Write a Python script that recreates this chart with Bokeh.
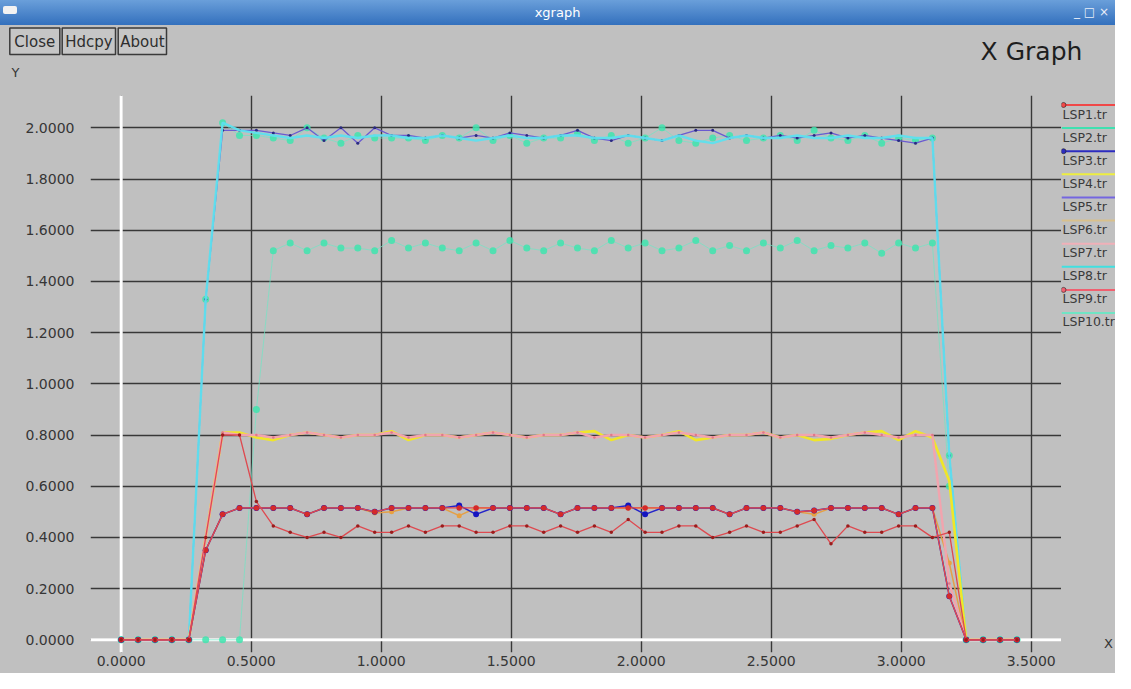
from bokeh.plotting import figure
from bokeh.models import (Range1d, FixedTicker, PrintfTickFormatter, Span, Div,
                          ColumnDataSource)
from bokeh.layouts import column, row
from bokeh.core.properties import value
from bokeh.embed import file_html
from bokeh.resources import INLINE

# ---------------- data ----------------
T = [0.000, 0.065, 0.130, 0.195, 0.260, 0.325, 0.390, 0.455, 0.520, 0.585,
     0.650, 0.715, 0.780, 0.845, 0.910, 0.975, 1.040, 1.105, 1.170, 1.235,
     1.300, 1.365, 1.430, 1.495, 1.560, 1.625, 1.690, 1.755, 1.820, 1.885,
     1.950, 2.015, 2.080, 2.145, 2.210, 2.275, 2.340, 2.405, 2.470, 2.535,
     2.600, 2.665, 2.730, 2.795, 2.860, 2.925, 2.990, 3.055, 3.120, 3.185,
     3.250, 3.315, 3.380, 3.445]

LSP1 = [0, 0, 0, 0, 0, 0.35, 0.49, 0.515, 0.515, 0.515,
        0.515, 0.49, 0.515, 0.515, 0.515, 0.50, 0.515, 0.515, 0.515, 0.515,
        0.515, 0.515, 0.515, 0.515, 0.515, 0.515, 0.49, 0.515, 0.515, 0.515,
        0.515, 0.515, 0.515, 0.515, 0.515, 0.515, 0.49, 0.515, 0.515, 0.515,
        0.50, 0.505, 0.515, 0.515, 0.515, 0.515, 0.49, 0.515, 0.515, 0.17,
        0, 0, 0, 0]

LSP2 = [0, 0, 0, 0, 0, 1.33, 2.02, 1.97, 1.97, 1.96,
        1.95, 2.00, 1.96, 1.94, 1.97, 1.96, 1.96, 1.96, 1.95, 1.97,
        1.96, 2.00, 1.95, 1.97, 1.94, 1.96, 1.96, 1.98, 1.95, 1.97,
        1.94, 1.96, 2.00, 1.95, 1.94, 1.96, 1.97, 1.95, 1.96, 1.97,
        1.95, 1.99, 1.96, 1.95, 1.97, 1.94, 1.96, 1.95, 1.96, 0.72,
        0, 0, 0, 0]

LSP3 = [0, 0, 0, 0, 0, 0.35, 0.49, 0.515, 0.515, 0.515,
        0.515, 0.49, 0.515, 0.515, 0.515, 0.50, 0.515, 0.515, 0.515, 0.515,
        0.525, 0.49, 0.515, 0.515, 0.515, 0.515, 0.49, 0.515, 0.515, 0.515,
        0.525, 0.49, 0.515, 0.515, 0.515, 0.515, 0.49, 0.515, 0.515, 0.515,
        0.50, 0.505, 0.515, 0.515, 0.515, 0.515, 0.49, 0.515, 0.515, 0.17,
        0, 0, 0, 0]

LSP4 = [0, 0, 0, 0, 0, 0.40, 0.81, 0.81, 0.79, 0.78,
        0.80, 0.81, 0.80, 0.79, 0.80, 0.80, 0.815, 0.78, 0.80, 0.80,
        0.79, 0.80, 0.81, 0.80, 0.79, 0.80, 0.80, 0.81, 0.815, 0.78,
        0.80, 0.79, 0.80, 0.815, 0.78, 0.79, 0.80, 0.80, 0.81, 0.79,
        0.80, 0.78, 0.785, 0.80, 0.81, 0.815, 0.78, 0.815, 0.79, 0.62,
        0, 0, 0, 0]

LSP5 = [0, 0, 0, 0, 0, 1.33, 1.99, 1.99, 1.99, 1.98,
        1.97, 2.00, 1.95, 2.00, 1.94, 2.00, 1.97, 1.97, 1.96, 1.97,
        1.96, 1.97, 1.96, 1.98, 1.97, 1.96, 1.97, 1.99, 1.96, 1.95,
        1.97, 1.96, 1.95, 1.97, 1.99, 1.99, 1.96, 1.97, 1.96, 1.97,
        1.96, 1.97, 1.98, 1.96, 1.97, 1.96, 1.95, 1.94, 1.96, 0.72,
        0, 0, 0, 0]

LSP6 = [0, 0, 0, 0, 0, 0.35, 0.49, 0.515, 0.515, 0.515,
        0.515, 0.49, 0.515, 0.515, 0.515, 0.495, 0.50, 0.515, 0.515, 0.515,
        0.485, 0.515, 0.515, 0.515, 0.515, 0.515, 0.49, 0.515, 0.515, 0.515,
        0.515, 0.515, 0.515, 0.515, 0.515, 0.515, 0.49, 0.515, 0.515, 0.515,
        0.50, 0.49, 0.515, 0.515, 0.515, 0.515, 0.49, 0.515, 0.515, 0.30,
        0, 0, 0, 0]

LSP7 = [0, 0, 0, 0, 0, 0.40, 0.81, 0.80, 0.80, 0.79,
        0.80, 0.81, 0.80, 0.79, 0.80, 0.80, 0.81, 0.79, 0.80, 0.80,
        0.79, 0.80, 0.81, 0.80, 0.79, 0.80, 0.80, 0.81, 0.79, 0.80,
        0.80, 0.79, 0.80, 0.81, 0.80, 0.79, 0.80, 0.80, 0.81, 0.79,
        0.80, 0.80, 0.79, 0.80, 0.81, 0.80, 0.79, 0.80, 0.80, 0.22,
        0, 0, 0, 0]

LSP8 = [0, 0, 0, 0, 0, 1.33, 2.02, 1.99, 1.98, 1.97,
        1.96, 1.97, 1.96, 1.97, 1.96, 1.97, 1.97, 1.96, 1.96, 1.97,
        1.96, 1.95, 1.96, 1.97, 1.96, 1.96, 1.97, 1.97, 1.96, 1.96,
        1.97, 1.96, 1.95, 1.97, 1.95, 1.94, 1.96, 1.97, 1.96, 1.96,
        1.97, 1.96, 1.96, 1.97, 1.96, 1.96, 1.97, 1.96, 1.96, 0.72,
        0, 0, 0, 0]

LSP9 = [0, 0, 0, 0, 0, 0.40, 0.80, 0.80, 0.54, 0.445,
        0.42, 0.40, 0.42, 0.40, 0.445, 0.42, 0.42, 0.445, 0.42, 0.445,
        0.445, 0.42, 0.42, 0.445, 0.445, 0.42, 0.445, 0.42, 0.445, 0.42,
        0.47, 0.42, 0.42, 0.445, 0.445, 0.40, 0.42, 0.445, 0.42, 0.42,
        0.445, 0.47, 0.375, 0.445, 0.42, 0.42, 0.445, 0.445, 0.40, 0.42,
        0, 0, 0, 0]

LSP10 = [0, 0, 0, 0, 0, 0, 0, 0, 0.90, 1.52,
         1.55, 1.52, 1.55, 1.53, 1.53, 1.52, 1.56, 1.53, 1.55, 1.53,
         1.52, 1.55, 1.52, 1.56, 1.53, 1.52, 1.55, 1.53, 1.52, 1.56,
         1.53, 1.55, 1.52, 1.53, 1.56, 1.52, 1.54, 1.52, 1.55, 1.53,
         1.56, 1.52, 1.54, 1.53, 1.55, 1.51, 1.55, 1.53, 1.55, 0.60,
         0, 0, 0, 0]

NAMES = ["LSP1.tr", "LSP2.tr", "LSP3.tr", "LSP4.tr", "LSP5.tr",
         "LSP6.tr", "LSP7.tr", "LSP8.tr", "LSP9.tr", "LSP10.tr"]
X_TICKS = [0.0, 0.5, 1.0, 1.5, 2.0, 2.5, 3.0, 3.5]
Y_TICKS = [0.0, 0.2, 0.4, 0.6, 0.8, 1.0, 1.2, 1.4, 1.6, 1.8, 2.0]
BUTTONS = ["Close", "Hdcpy", "About"]

# ---------------- style ----------------
BG = "#c0c0c0"
FONT = "DejaVu Sans"
TXT = "#363636"
LEG_COLORS = ["#f04848", "#40e0b0", "#2c2cc0", "#eeee40", "#7466e0",
              "#d8c08c", "#f0b0b8", "#40e0e0", "#f06070", "#70e4c4"]
LEG_DOT = [True, False, True, False, False, False, False, False, True, False]

W_ALL = 1115
H_BAR, H_HEAD, H_MAIN = 25, 60, 588
FL, FR, FT, FB = 90, 1061, 95, 652          # frame edges (picture px)
X0_PX, PX_X = 120.7, 260.0                  # px of x=0, px per unit
Y0_PX, PX_Y = 639.3, 256.0                  # px of y=0, px per unit
TOP_MAIN = H_BAR + H_HEAD
BG_STYLE = {"background-color": BG}


def dx(px):
    return (px - X0_PX) / PX_X


def dy(py):
    return (Y0_PX - py) / PX_Y


def blank(width, height, x0, x1, y0, y1):
    f = figure(width=width, height=height, title=None,
               x_range=Range1d(x0, x1), y_range=Range1d(y1, y0),
               x_axis_type=None, y_axis_type=None,
               output_backend="svg", toolbar_location=None,
               min_border=0, min_border_left=0, min_border_right=0,
               min_border_top=0, min_border_bottom=0, margin=0,
               styles=BG_STYLE)
    f.background_fill_color = BG
    f.border_fill_color = BG
    f.outline_line_color = None
    return f


# ---------------- main plot ----------------
p = figure(width=FR, height=H_MAIN, title=None,
           x_range=Range1d(dx(FL), dx(FR)), y_range=Range1d(dy(FB), dy(FT)),
           output_backend="svg", toolbar_location=None, margin=0,
           styles=BG_STYLE,
           min_border_left=FL, min_border_right=0,
           min_border_top=FT - TOP_MAIN,
           min_border_bottom=TOP_MAIN + H_MAIN - FB)
p.background_fill_color = BG
p.border_fill_color = BG
p.outline_line_color = None

p.xaxis.ticker = FixedTicker(ticks=X_TICKS)
p.yaxis.ticker = FixedTicker(ticks=Y_TICKS)
for ax in (p.xaxis[0], p.yaxis[0]):
    ax.formatter = PrintfTickFormatter(format="%.4f")
    ax.axis_line_color = None
    ax.major_tick_line_color = None
    ax.minor_tick_line_color = None
    ax.major_tick_out = 0
    ax.major_tick_in = 0
    ax.minor_tick_out = 0
    ax.minor_tick_in = 0
    ax.major_label_text_font = FONT
    ax.major_label_text_font_size = "14px"
    ax.major_label_text_color = TXT
p.xaxis.major_label_standoff = 3
p.yaxis.major_label_standoff = 16

for g in (p.xgrid[0], p.ygrid[0]):
    g.grid_line_color = "#383838"
    g.grid_line_width = 1.4

p.add_layout(Span(location=0, dimension="height", line_color="white",
                  line_width=3, level="underlay"))
p.add_layout(Span(location=0, dimension="width", line_color="white",
                  line_width=3, level="underlay"))


def draw(y, color, width, msize=0, mcolor=None, malpha=1.0, lalpha=1.0):
    src = ColumnDataSource(dict(x=T, y=y))
    p.line("x", "y", source=src, line_color=color, line_width=width,
           line_alpha=lalpha)
    if msize:
        p.scatter("x", "y", source=src, size=msize, fill_color=mcolor,
                  line_color=None, fill_alpha=malpha)


draw(LSP10, "#70e6c4", 1.0, 7, "#3fe4ae", 0.85, 0.7)
draw(LSP2, "#70e6c4", 1.0, 7, "#3fe4ae", 0.85, 0.7)
draw(LSP5, "#6a5ad0", 1.3, 3, "#2a2a80")
draw(LSP8, "#5ee0ee", 2.4, 0, None, 1.0, 0.95)
draw(LSP6, "#e4a048", 1.5, 5, "#e8a040")
draw(LSP4, "#f0e628", 2.6)
draw(LSP7, "#f2a4ae", 2.4, 2.5, "#e07888")
draw(LSP3, "#2424c8", 1.5, 6, "#1414c0")
draw(LSP1, "#e84848", 1.3, 5.5, "#d42a2a")
draw(LSP9, "#de4a50", 1.3, 3.5, "#9a1c1c")

# ---------------- header strip: buttons, title, Y unit ----------------
head = blank(W_ALL, H_HEAD, 0, W_ALL, H_BAR, H_BAR + H_HEAD)
b_left = [9.3, 61.7, 117.7]
b_right = [59.3, 115.0, 166.0]
head.quad(left=b_left, right=b_right, top=[27.5] * 3, bottom=[54.0] * 3,
          fill_color="#c6c6c6", line_color="#3a3a3a", line_width=1.5)
head.text(x=[(a + b) / 2 for a, b in zip(b_left, b_right)], y=[41.5] * 3,
          text=BUTTONS, text_align="center", text_baseline="middle",
          text_font=value(FONT), text_font_size="15px", text_color="#2e2e2e")
head.text(x=[1031], y=[51], text=["X Graph"], text_align="center",
          text_baseline="middle", text_font=value(FONT),
          text_font_size="25px", text_color="#1e1e1e")
head.text(x=[15], y=[72], text=["Y"], text_align="center",
          text_baseline="middle", text_font=value(FONT),
          text_font_size="13px", text_color=TXT)

# ---------------- legend strip (xgraph style) ----------------
leg = blank(W_ALL - FR, H_MAIN, FR, W_ALL, TOP_MAIN, TOP_MAIN + H_MAIN)
leg_line_y = [95 + 24.4 * k for k in range(len(NAMES))]
leg_text_y = [105 + 24.3 * k for k in range(len(NAMES))]
leg.segment(x0=[FR] * len(NAMES), y0=leg_line_y, x1=[W_ALL + 20] * len(NAMES),
            y1=leg_line_y, line_color=LEG_COLORS, line_width=2)
dot_y = [yy for yy, d in zip(leg_line_y, LEG_DOT) if d]
dot_c = [c for c, d in zip(LEG_COLORS, LEG_DOT) if d]
leg.scatter(x=[FR + 2] * len(dot_y), y=dot_y, size=5, fill_color=dot_c,
            line_color="#202020", line_width=0.6)
leg.text(x=[FR + 1] * len(NAMES), y=leg_text_y, text=NAMES,
         text_align="left", text_baseline="middle", text_font=value(FONT),
         text_font_size="12.5px", text_color="#3a3a3a")
leg.text(x=[1108], y=[663], text=["X"], text_align="center",
         text_baseline="middle", text_font=value(FONT),
         text_font_size="13px", text_color=TXT)

# ---------------- window title bar ----------------
bar = Div(text=(
    '<div style="position:relative;width:%dpx;height:%dpx;'
    'background:linear-gradient(#6a9fda,#3370bd);color:#ffffff;'
    'font-family:DejaVu Sans;font-size:13px;line-height:%dpx;'
    'text-align:center;overflow:hidden;">xgraph'
    '<span style="position:absolute;left:3px;top:6px;width:14px;height:8px;'
    'background:#f2f2f2;border-radius:2px;"></span>'
    '<span style="position:absolute;right:6px;top:0px;font-size:12px;'
    'color:#e8eef8;">_ &#9633; &#215;</span></div>') % (W_ALL, H_BAR, H_BAR),
    width=W_ALL, height=H_BAR, margin=0)

body = row(p, leg, spacing=0, styles=BG_STYLE)
layout = column(bar, head, body, spacing=0, styles=BG_STYLE)
open("out.html", "w").write(file_html(layout, INLINE, title="xgraph"))
